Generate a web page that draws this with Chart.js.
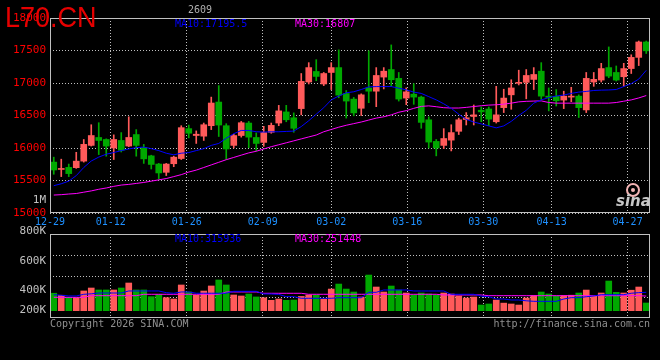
<!DOCTYPE html>
<html>
<head>
<meta charset="utf-8">
<script src="https://cdn.jsdelivr.net/npm/chart.js@4.4.0/dist/chart.umd.min.js"></script>
<style>
  html, body { margin: 0; padding: 0; background: #000; }
  #wrap { position: relative; width: 660px; height: 360px; overflow: hidden; background: #000; }
  #price { position: absolute; left: 0; top: 0; }
  #vol { position: absolute; left: 0; top: 226px; }
</style>
</head>
<body>
<div id="wrap">
  <canvas id="price" width="660" height="226"></canvas>
  <canvas id="vol" width="660" height="134"></canvas>
</div>
<script>
// daily candles L70 2609, 12-29 .. 04-30
const xLabels  = ['12-29', '01-12', '01-26', '02-09', '03-02', '03-16', '03-30', '04-13', '04-27'];
const xLabelIdx = [0, 8, 18, 28, 37, 47, 57, 66, 76];

const openP = [15783,15670,15702,15697,15798,16040,16162,16131,16000,16116,
  16030,16207,16005,15879,15753,15626,15758,15838,16298,16192,
  16182,16343,16707,16343,16040,16192,16384,16162,16086,16242,
  16384,16555,16465,16606,17015,17177,16985,17162,17237,16838,
  16752,16611,16924,16874,17091,17207,17071,16768,16828,16783,
  16434,16101,16040,16121,16257,16439,16485,16581,16600,16404,
  16621,16818,16995,17010,17055,17182,16798,16793,16737,16783,
  16798,16586,17015,17045,17237,17162,17096,17222,17394,17631];
const highP = [15859,15828,15753,15934,16131,16358,16389,16141,16202,16237,
  16480,16283,16055,15889,15763,15763,15874,16343,16353,16263,
  16384,16783,16960,16374,16212,16409,16409,16232,16333,16384,
  16656,16656,16540,17146,17313,17359,17162,17313,17510,16884,
  16778,16833,17495,17237,17237,17586,17162,16924,16990,16798,
  16480,16131,16298,16358,16460,16545,16662,16631,16631,16949,
  16904,17050,17197,17207,17237,17313,16924,16899,16874,16934,
  16818,17162,17162,17303,17555,17262,17303,17434,17646,17646];
const lowP = [15596,15560,15560,15687,15783,16030,15899,15874,15823,15939,
  16020,15874,15763,15677,15525,15576,15712,15823,16156,16070,
  16116,16283,16177,15828,16000,16167,16005,15955,16025,16227,
  16343,16404,16242,16510,16985,17035,16960,16899,16773,16460,
  16495,16500,16697,16636,16909,16949,16722,16667,16672,16303,
  16000,15879,15990,15955,16207,16354,16354,16404,16343,16384,
  16545,16596,16970,16757,16899,16747,16571,16646,16606,16712,
  16469,16545,16949,17015,17081,17030,16950,17146,17268,17454];
const closeP = [15662,15685,15606,15798,16056,16192,16116,16030,16131,15965,
  16162,16040,15833,15747,15616,15753,15859,16313,16227,16212,
  16358,16692,16353,15985,16192,16389,16167,16070,16237,16348,
  16571,16434,16303,17025,17237,17101,17146,17237,16813,16722,
  16540,16818,16874,17116,17182,17050,16753,16864,16783,16394,
  16091,16000,16146,16237,16434,16465,16510,16556,16444,16510,
  16768,16924,17010,17116,17131,16798,16778,16727,16798,16798,
  16621,17071,17056,17222,17106,17045,17222,17394,17631,17495];

const ma10 = [15420,15450,15490,15575,15700,15800,15860,15905,15930,15960,
  15985,16005,16014,15990,15960,15920,15895,15920,15930,15960,
  15990,16040,16070,16150,16220,16270,16270,16250,16245,16250,
  16250,16255,16260,16330,16420,16520,16620,16740,16800,16850,
  16865,16900,16940,16945,16945,16945,16920,16895,16860,16840,
  16790,16740,16680,16610,16520,16440,16400,16370,16340,16310,
  16340,16410,16500,16580,16690,16740,16775,16800,16815,16840,
  16860,16870,16885,16890,16893,16900,16945,16990,17060,17195];
const ma30 = [15276,15282,15292,15300,15320,15340,15365,15385,15410,15430,
  15440,15455,15470,15490,15510,15530,15560,15590,15630,15660,
  15700,15740,15780,15820,15855,15890,15925,15950,15985,16020,
  16050,16080,16110,16140,16170,16200,16250,16285,16320,16350,
  16375,16400,16430,16460,16480,16510,16550,16575,16610,16640,
  16648,16635,16620,16615,16615,16625,16638,16650,16660,16665,
  16675,16690,16710,16718,16722,16725,16700,16690,16690,16690,
  16690,16690,16690,16690,16690,16700,16720,16740,16770,16807];

// volume, thousands of lots
const vol = [300,265,224,224,339,390,356,356,356,390,
  476,356,356,241,275,224,201,442,322,265,
  338,425,528,442,270,253,287,236,222,178,
  201,178,183,245,269,269,200,372,458,372,
  321,235,613,407,321,424,355,304,269,304,
  287,269,304,287,252,218,235,97,115,183,
  130,115,97,218,260,321,287,252,260,266,
  304,355,248,304,510,315,304,352,407,132];
const volMa10 = [275,265,253,253,282,290,304,304,304,304,
  339,339,339,339,339,310,299,322,322,300,
  300,300,300,300,333,333,333,333,287,287,
  280,241,241,213,213,213,213,213,223,223,
  223,223,316,316,356,356,356,356,339,339,
  339,339,339,282,282,282,282,250,240,201,
  201,184,184,170,161,161,161,161,201,224,
  224,240,253,275,275,275,275,300,310,316];
const volMa30 = [230,230,230,230,230,258,258,258,258,258,
  258,258,282,282,282,282,282,282,282,282,
  282,282,282,322,322,322,322,322,299,299,
  299,299,299,299,282,282,282,282,282,282,
  282,282,282,282,282,282,282,282,282,282,
  282,282,270,270,270,270,270,270,258,258,
  258,258,258,258,258,258,258,258,258,258,
  258,258,258,258,258,258,258,258,258,251];
const volLabels = ['800K', '600K', '400K', '200K'];

const RED = '#ff5a5a';
const GREEN = '#00a800';
const GRID = '#c0c0c0';
const candleColors = closeP.map((c, i) => c >= openP[i] ? RED : GREEN);

Chart.defaults.font.family = 'DejaVu Sans Mono';

function pts(arr) {
  return arr.map((v, i) => ({ x: i + 0.5, y: v }));
}

// sina ticks drift a little from the candle slots, so spread them by 76/75
function xTicks(scale) {
  scale.ticks = xLabelIdx.map(i => ({ value: i * 76 / 75 }));
}

function frame(chart) {
  const a = chart.chartArea, ctx = chart.ctx;
  ctx.save();
  ctx.strokeStyle = GRID;
  ctx.lineWidth = 1;
  ctx.strokeRect(a.left + 0.5, a.top + 0.5, a.right - a.left - 1, a.bottom - a.top - 1);
  ctx.restore();
}

const pricePlugin = {
  id: 'pricePlugin',
  beforeDraw(chart) {
    const ctx = chart.ctx;
    ctx.save();
    ctx.fillStyle = '#000';
    ctx.fillRect(0, 0, chart.width, chart.height);
    ctx.restore();
  },
  beforeDatasetsDraw(chart) {
    // sina watermark
    const ctx = chart.ctx;
    ctx.save();
    ctx.strokeStyle = '#f2b4b4';
    ctx.lineWidth = 2;
    ctx.beginPath();
    ctx.arc(633, 190, 6, 0, Math.PI * 2);
    ctx.stroke();
    ctx.fillStyle = '#f2b4b4';
    ctx.beginPath();
    ctx.arc(633, 190, 2, 0, Math.PI * 2);
    ctx.fill();
    ctx.font = 'italic bold 15px "DejaVu Sans"';
    ctx.fillStyle = '#c8c8c8';
    ctx.textBaseline = 'alphabetic';
    ctx.fillText('sina', 616, 206);
    ctx.restore();
  },
  afterDraw(chart) {
    const ctx = chart.ctx;
    frame(chart);
    ctx.save();
    ctx.textBaseline = 'middle';
    ctx.font = '10px "DejaVu Sans Mono"';
    ctx.fillStyle = '#b0b0b0';
    ctx.fillText('2609', 188, 10);
    ctx.fillStyle = '#0000ff';
    ctx.fillText('MA10:' + ma10[ma10.length - 1] + '.5', 175, 24);
    ctx.fillStyle = '#ff00ff';
    ctx.fillText('MA30:' + ma30[ma30.length - 1], 295, 24);
    ctx.textAlign = 'right';
    ctx.font = '11px "DejaVu Sans Mono"';
    ctx.fillStyle = '#c0c0c0';
    ctx.fillText('1M', 46, 200);
    ctx.textAlign = 'left';
    ctx.textBaseline = 'alphabetic';
    ctx.fillStyle = '#e60000';
    ctx.font = '30px "Liberation Sans"';
    ctx.translate(5, 27);
    ctx.scale(0.9, 1);
    ctx.fillText('L70.CN', 0, 0);
    ctx.restore();
  }
};

new Chart(document.getElementById('price'), {
  type: 'bar',
  data: {
    datasets: [
      { type: 'line', data: pts(ma10), borderColor: '#0000ff', borderWidth: 1, pointRadius: 0, order: 0 },
      { type: 'line', data: pts(ma30), borderColor: '#ff00ff', borderWidth: 1, pointRadius: 0, order: 0 },
      {
        data: openP.map((o, i) => ({ x: i + 0.5, y: [o, closeP[i]] })),
        backgroundColor: candleColors, barThickness: 6, minBarLength: 1, grouped: false, order: 1
      },
      {
        data: lowP.map((l, i) => ({ x: i + 0.5, y: [l, highP[i]] })),
        backgroundColor: candleColors, barThickness: 1, grouped: false, order: 2
      }
    ]
  },
  options: {
    responsive: false,
    animation: false,
    layout: { padding: { left: 0, right: 10, top: 18, bottom: 0 } },
    plugins: { legend: { display: false }, tooltip: { enabled: false } },
    scales: {
      x: {
        type: 'linear', min: 0, max: 80, offset: false,
        afterBuildTicks: xTicks,
        afterFit: s => { s.height = 13; },
        grid: { color: GRID, lineWidth: 1, drawTicks: false, offset: false },
        border: { display: false, dash: [1, 2] },
        ticks: {
          color: '#1e90ff', font: { size: 10 }, padding: 3, maxRotation: 0, autoSkip: false,
          callback: (v, i) => xLabels[i]
        }
      },
      y: {
        min: 15000, max: 18000,
        afterFit: s => { s.width = 50; },
        grid: { color: GRID, lineWidth: 1, drawTicks: false },
        border: { display: false, dash: [1, 2] },
        ticks: { stepSize: 500, color: '#ff0000', font: { size: 11 }, padding: 4, callback: v => v }
      }
    }
  },
  plugins: [pricePlugin]
});

const VMIN = -126, VMAX = 1319;

const volPlugin = {
  id: 'volPlugin',
  beforeDraw(chart) {
    const ctx = chart.ctx;
    ctx.save();
    ctx.fillStyle = '#000';
    ctx.fillRect(0, 0, chart.width, chart.height);
    ctx.restore();
  },
  afterDraw(chart) {
    const ctx = chart.ctx, a = chart.chartArea;
    frame(chart);
    ctx.save();
    ctx.textBaseline = 'middle';
    // sina puts these labels off the grid lines
    const labelY = [-3, 27, 56, 76];
    ctx.textAlign = 'right';
    ctx.font = '11px "DejaVu Sans Mono"';
    ctx.fillStyle = '#c0c0c0';
    volLabels.forEach((t, k) => ctx.fillText(t, 46, a.top + labelY[k]));
    ctx.textAlign = 'left';
    ctx.font = '10px "DejaVu Sans Mono"';
    ctx.fillStyle = '#0000ff';
    ctx.fillText('MA10:315936', 175, a.top + 5);
    ctx.fillStyle = '#ff00ff';
    ctx.fillText('MA30:251448', 295, a.top + 5);
    ctx.fillStyle = '#909090';
    ctx.fillText('Copyright 2026 SINA.COM', 50, a.bottom + 6);
    ctx.textAlign = 'right';
    ctx.fillText('http://finance.sina.com.cn', 650, a.bottom + 6);
    ctx.restore();
  }
};

new Chart(document.getElementById('vol'), {
  type: 'bar',
  data: {
    datasets: [
      { type: 'line', data: pts(volMa10), borderColor: '#0000ff', borderWidth: 1, pointRadius: 0, order: 0 },
      { type: 'line', data: pts(volMa30), borderColor: '#ff00ff', borderWidth: 1, pointRadius: 0, order: 0 },
      { data: pts(vol), backgroundColor: candleColors, barThickness: 6, grouped: false, order: 1 }
    ]
  },
  options: {
    responsive: false,
    animation: false,
    layout: { padding: { left: 0, right: 10, top: 8, bottom: 42 } },
    plugins: { legend: { display: false }, tooltip: { enabled: false } },
    scales: {
      x: {
        type: 'linear', min: 0, max: 80, offset: false,
        afterBuildTicks: xTicks,
        afterFit: s => { s.height = 0; },
        grid: { color: GRID, lineWidth: 1, drawTicks: false, offset: false },
        border: { display: false, dash: [1, 2] },
        ticks: { display: false }
      },
      y: {
        min: VMIN, max: VMAX,
        afterBuildTicks: s => {
          const step = (VMAX - VMIN) / 4;
          s.ticks = [1, 2, 3].map(k => ({ value: VMIN + k * step }));
        },
        afterFit: s => { s.width = 50; },
        grid: { color: GRID, lineWidth: 1, drawTicks: false },
        border: { display: false, dash: [1, 2] },
        ticks: { display: false }
      }
    }
  },
  plugins: [volPlugin]
});
</script>
</body>
</html>
